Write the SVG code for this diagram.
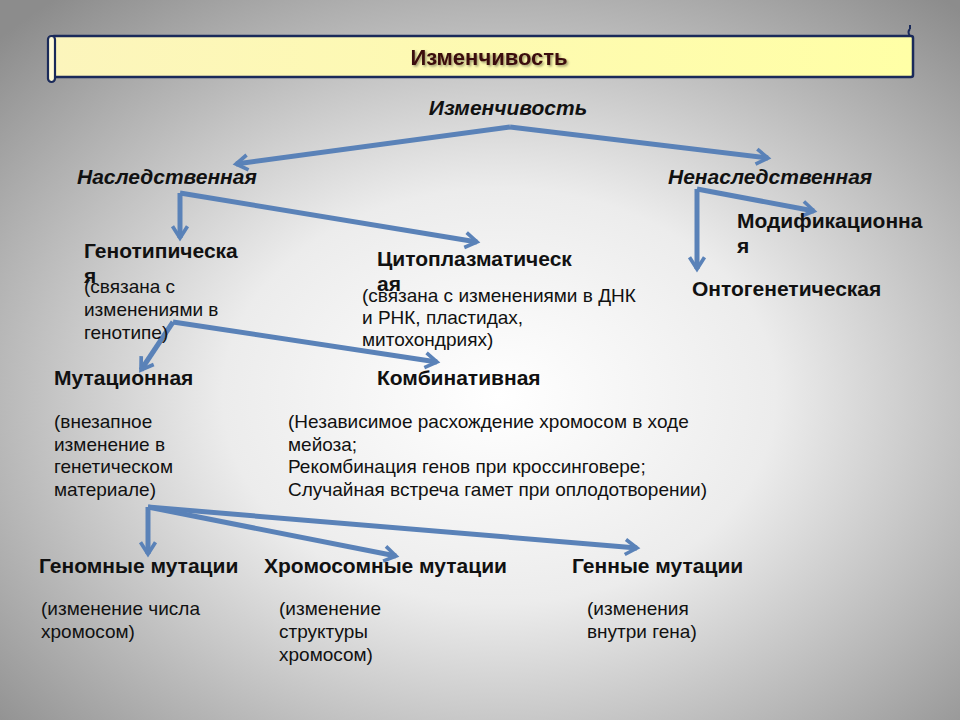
<svg xmlns="http://www.w3.org/2000/svg" width="960" height="720" viewBox="0 0 960 720">
<defs>
<radialGradient id="bg" cx="0.52" cy="0.55" r="0.72">
<stop offset="0" stop-color="#ffffff"/>
<stop offset="0.4" stop-color="#ececec"/>
<stop offset="1" stop-color="#8c8c8c"/>
</radialGradient>
<linearGradient id="ban" x1="0" y1="0" x2="1" y2="0">
<stop offset="0" stop-color="#fcf5bc"/>
<stop offset="1" stop-color="#ffffa6"/>
</linearGradient>
<marker id="ah" viewBox="0 0 12 12" refX="9" refY="6" markerWidth="4" markerHeight="4" orient="auto" markerUnits="strokeWidth">
<path d="M2,1.5 L9,6 L2,10.5" fill="none" stroke="#5a82b8" stroke-width="2.2" stroke-linejoin="miter"/>
</marker>
<filter id="sh" x="-5%" y="-20%" width="110%" height="150%">
<feDropShadow dx="1.5" dy="1.5" stdDeviation="1" flood-color="#000" flood-opacity="0.4"/>
</filter>
</defs>
<style>
.t{font-family:"Liberation Sans",Arial,sans-serif;fill:#111;}
.b{font-weight:bold;font-size:21px;}
.bi{font-weight:bold;font-style:italic;font-size:21px;}
.r{font-size:19px;}
.c{stroke:#5a82b8;stroke-width:5;fill:none;stroke-linecap:butt;marker-end:url(#ah);}
</style>
<rect width="960" height="720" fill="url(#bg)"/>
<g id="banner">
<rect x="52" y="36" width="861" height="41" rx="2" fill="url(#ban)" stroke="#1a2a5a" stroke-width="2.5"/>
<rect x="48" y="36" width="7" height="46" rx="3.5" fill="#fffbd8" stroke="#1a2a5a" stroke-width="2.2"/>
<path d="M910,36 q-3,-4 0,-7 M910,29 l0,-4" fill="none" stroke="#1a2a5a" stroke-width="2"/>
<text x="489" y="65" text-anchor="middle" class="t" style="font-weight:bold;font-size:22px;fill:#3a0a0a" filter="url(#sh)">Изменчивость</text>
</g>
<g id="connectors">
<path class="c" d="M510,127 L236,164"/>
<path class="c" d="M510,127 L768,158"/>
<path class="c" d="M180,193 L180,238"/>
<path class="c" d="M180,193 L477,242"/>
<path class="c" d="M697,189 L697,269"/>
<path class="c" d="M697,189 L814,211"/>
<path class="c" d="M173,322 L141,370"/>
<path class="c" d="M173,322 L437,362"/>
<path class="c" d="M148,507 L148,554"/>
<path class="c" d="M148,507 L396,556"/>
<path class="c" d="M148,507 L637,548"/>
</g>
<g id="root"><text x="508" y="115" text-anchor="middle" class="t bi">Изменчивость</text></g>
<g id="hered"><text x="77" y="184" class="t bi">Наследственная</text></g>
<g id="nonhered"><text x="668" y="184" class="t bi">Ненаследственная</text></g>
<g id="genotyp">
<text x="84" y="258" class="t b">Генотипическа</text>
<text x="84" y="283" class="t b">я</text>
<text x="84" y="293" class="t r">(связана с</text>
<text x="84" y="316" class="t r">изменениями в</text>
<text x="84" y="339" class="t r">генотипе)</text>
</g>
<g id="cyto">
<text x="377" y="266" class="t b">Цитоплазматическ</text>
<text x="377" y="291" class="t b">ая</text>
<text x="362" y="302" class="t r">(связана с изменениями в ДНК</text>
<text x="362" y="324" class="t r">и РНК, пластидах,</text>
<text x="362" y="346" class="t r">митохондриях)</text>
</g>
<g id="modif">
<text x="737" y="228" class="t b">Модификационна</text>
<text x="737" y="253" class="t b">я</text>
</g>
<g id="onto"><text x="692" y="296" class="t b">Онтогенетическая</text></g>
<g id="mut">
<text x="54" y="385" class="t b">Мутационная</text>
<text x="54" y="428" class="t r">(внезапное</text>
<text x="54" y="451" class="t r">изменение в</text>
<text x="54" y="473" class="t r">генетическом</text>
<text x="54" y="496" class="t r">материале)</text>
</g>
<g id="comb">
<text x="377" y="385" class="t b">Комбинативная</text>
<text x="288" y="428" class="t r">(Независимое расхождение хромосом в ходе</text>
<text x="288" y="451" class="t r">мейоза;</text>
<text x="288" y="473" class="t r">Рекомбинация генов при кроссинговере;</text>
<text x="288" y="496" class="t r">Случайная встреча гамет при оплодотворении)</text>
</g>
<g id="genom">
<text x="39" y="573" class="t b">Геномные мутации</text>
<text x="41" y="615" class="t r">(изменение числа</text>
<text x="41" y="638" class="t r">хромосом)</text>
</g>
<g id="chrom">
<text x="264" y="573" class="t b">Хромосомные мутации</text>
<text x="279" y="615" class="t r">(изменение</text>
<text x="279" y="638" class="t r">структуры</text>
<text x="279" y="661" class="t r">хромосом)</text>
</g>
<g id="gene">
<text x="572" y="573" class="t b">Генные мутации</text>
<text x="587" y="615" class="t r">(изменения</text>
<text x="587" y="638" class="t r">внутри гена)</text>
</g>
</svg>
